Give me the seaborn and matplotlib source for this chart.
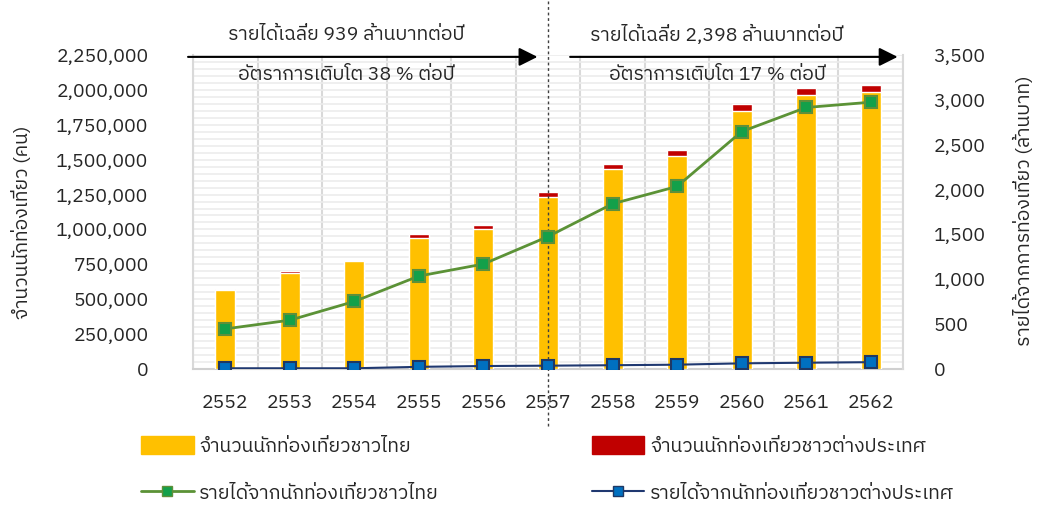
import matplotlib
matplotlib.use("Agg")
import matplotlib.pyplot as plt
import seaborn as sns
import pandas as pd
from matplotlib import font_manager
from matplotlib.ft2font import FT2Font
from matplotlib.ticker import MultipleLocator, FixedLocator, FuncFormatter
from matplotlib.patches import Patch
from matplotlib.lines import Line2D

years = ["2552", "2553", "2554", "2555", "2556", "2557", "2558", "2559", "2560", "2561", "2562"]
thai_visitors = [563000, 686000, 771000, 940000, 1004000, 1232000, 1434000, 1526000, 1852000, 1964000, 1982000]
foreign_visitors = [13000, 14000, 13000, 28000, 28000, 36000, 38000, 40000, 48000, 50000, 55000]
thai_revenue = [447, 544, 753, 1036, 1170, 1476, 1841, 2035, 2646, 2915, 2974]
foreign_revenue = [8, 8, 8, 24, 33, 37, 42, 48, 63, 70, 76]

labels = ["จำนวนนักท่องเที่ยวชาวไทย", "จำนวนนักท่องเที่ยวชาวต่างประเทศ",
          "รายได้จากนักท่องเที่ยวชาวไทย", "รายได้จากนักท่องเที่ยวชาวต่างประเทศ"]

sns.set_style("white")

# find any installed family that has Thai glyphs
thai_family = None
for fe in font_manager.fontManager.ttflist:
    try:
        if FT2Font(fe.fname).get_char_index(0x0E01):
            thai_family = fe.name
            if "Thai" in fe.name:
                break
    except Exception:
        pass
fams = ([thai_family] if thai_family else []) + ["DejaVu Sans"]
plt.rcParams["font.family"] = fams

yellow = "#ffc000"
red = "#c00000"
green_line = "#5b9236"
green_face = "#13a04a"
blue_line = "#1f3870"
blue_face = "#0070c0"
txt = "#262626"

df = pd.DataFrame({"year": years, "thai": thai_visitors, "foreign": foreign_visitors,
                   "rev_thai": thai_revenue, "rev_foreign": foreign_revenue})
df["total"] = df["thai"] + df["foreign"]

fig = plt.figure(figsize=(10.41, 5.07), dpi=100)
ax = fig.add_axes([0.1854, 0.2722, 0.682, 0.6193])

sns.barplot(data=df, x="year", y="total", color=red, saturation=1, width=0.31, ax=ax, zorder=2)
sns.barplot(data=df, x="year", y="thai", color=yellow, saturation=1, width=0.31, ax=ax, zorder=3)

ax.set_xlim(-0.5, 10.5)
ax.set_ylim(0, 2250000)
ax.yaxis.set_major_locator(MultipleLocator(250000))
ax.yaxis.set_minor_locator(MultipleLocator(50000))
ax.xaxis.set_minor_locator(FixedLocator([i + 0.5 for i in range(-1, 11)]))
ax.yaxis.set_major_formatter(FuncFormatter(lambda v, p: f"{int(v):,}"))
ax.grid(which="both", axis="y", color="#ececec", lw=1.2, zorder=0)
ax.grid(which="minor", axis="x", color="#d9d9d9", lw=1.5, zorder=0)
ax.set_axisbelow(True)
ax.tick_params(axis="both", which="both", length=0, labelsize=14, colors=txt)
ax.tick_params(axis="y", pad=32)
ax.tick_params(axis="x", pad=18)
ax.set_xlabel("")
ax.set_ylabel("")
for s in ["top", "right"]:
    ax.spines[s].set_visible(False)
ax.spines["left"].set_color("#d9d9d9")
ax.spines["left"].set_linewidth(1.5)
ax.spines["bottom"].set_color("#d0d0d0")
ax.spines["bottom"].set_linewidth(1.5)

ax2 = ax.twinx()
sns.lineplot(data=df, x="year", y="rev_thai", ax=ax2, color=green_line, lw=2, sort=False,
             marker="s", markersize=8, markerfacecolor=green_face, markeredgecolor="#5f8f3a", markeredgewidth=1.5)
sns.lineplot(data=df, x="year", y="rev_foreign", ax=ax2, color=blue_line, lw=1.5, sort=False,
             marker="s", markersize=8, markerfacecolor=blue_face, markeredgecolor="#1f3864", markeredgewidth=1.5)
ax2.set_ylim(0, 3500)
ax2.set_xlim(-0.5, 10.5)
ax2.yaxis.set_major_locator(MultipleLocator(500))
ax2.yaxis.set_major_formatter(FuncFormatter(lambda v, p: f"{int(v):,}"))
ax2.tick_params(axis="y", length=0, labelsize=14, colors=txt, pad=22)
ax2.set_ylabel("")
for s in ax2.spines.values():
    s.set_visible(False)
ax2.spines["right"].set_visible(True)
ax2.spines["right"].set_color("#d9d9d9")
ax2.spines["right"].set_linewidth(1.5)

fig.text(22 / 1041, 0.562, "จำนวนนักท่องเที่ยว (คน)", rotation=90, ha="center", va="center",
         fontsize=14, color=txt)
fig.text(1024 / 1041, 0.585, "รายได้จากการท่องเที่ยว (ล้านบาท)", rotation=90, ha="center", va="center",
         fontsize=14, color=txt)

# period divider and annotations
ax.axvline(5, ymin=-0.18, ymax=1.18, color="#404040", ls=(0, (2, 2)), lw=1, clip_on=False, zorder=5)
arrow = dict(arrowstyle="-|>", color="black", lw=1.5, mutation_scale=28)
tr = ax.get_xaxis_transform()
ax.annotate("", xy=(4.88, 0.994), xytext=(-0.62, 0.994), xycoords=tr, textcoords=tr,
            arrowprops=arrow, annotation_clip=False)
ax.annotate("", xy=(10.46, 0.994), xytext=(5.30, 0.994), xycoords=tr, textcoords=tr,
            arrowprops=arrow, annotation_clip=False)
ax.text(1.87, 1.064, "รายได้เฉลี่ย 939 ล้านบาทต่อปี", transform=tr, ha="center", va="center", fontsize=14, color=txt)
ax.text(1.87, 0.936, "อัตราการเติบโต 38 % ต่อปี", transform=tr, ha="center", va="center", fontsize=14, color=txt)
ax.text(7.62, 1.064, "รายได้เฉลี่ย 2,398 ล้านบาทต่อปี", transform=tr, ha="center", va="center", fontsize=14, color=txt)
ax.text(7.62, 0.936, "อัตราการเติบโต 17 % ต่อปี", transform=tr, ha="center", va="center", fontsize=14, color=txt)

# legend in two columns below
h_yellow = Patch(facecolor=yellow, edgecolor=yellow)
h_red = Patch(facecolor=red, edgecolor=red)
h_green = Line2D([], [], color=green_line, lw=2, marker="s", markersize=7,
                 markerfacecolor=green_face, markeredgecolor="#5f8f3a")
h_blue = Line2D([], [], color=blue_line, lw=1.5, marker="s", markersize=7,
                markerfacecolor=blue_face, markeredgecolor="#1f3864")
leg_kw = dict(frameon=False, fontsize=14, handlelength=2.7, handleheight=1.0, handletextpad=0.3,
              labelspacing=1.45, loc="upper left", labelcolor=txt, borderaxespad=0)
fig.legend([h_yellow, h_green], [labels[0], labels[2]], bbox_to_anchor=(0.128, 0.155), **leg_kw)
fig.legend([h_red, h_blue], [labels[1], labels[3]], bbox_to_anchor=(0.561, 0.155), **leg_kw)

fig.savefig("out.png", dpi=100)
